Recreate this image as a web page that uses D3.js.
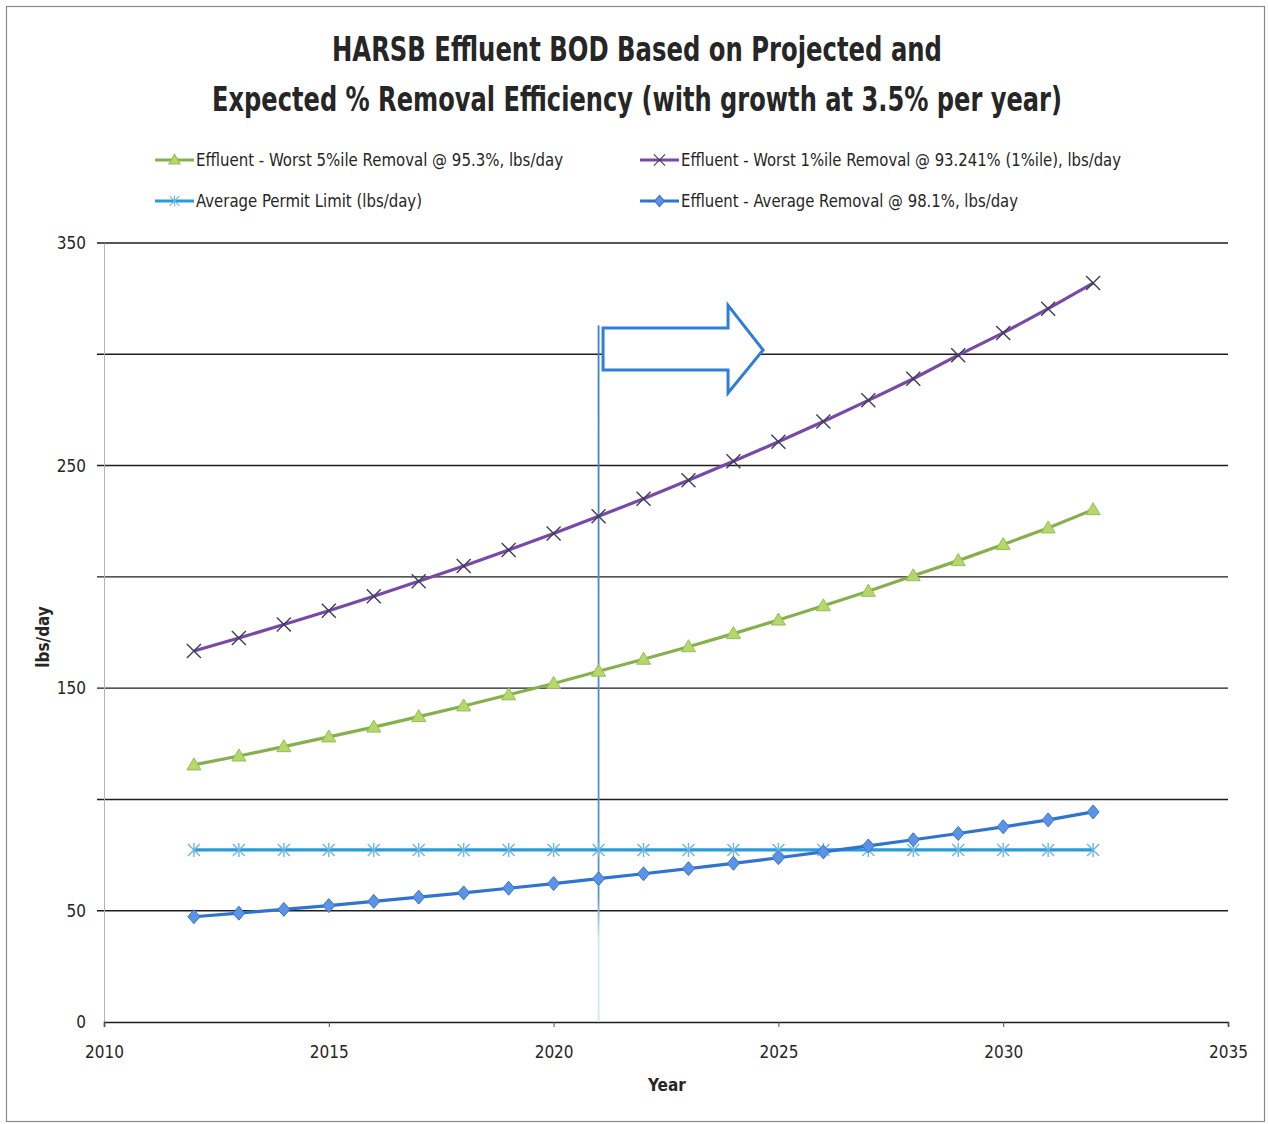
<!DOCTYPE html>
<html>
<head>
<meta charset="utf-8">
<script src="https://cdn.jsdelivr.net/npm/d3@7"></script>
<style>
  html, body { margin: 0; padding: 0; background: #fff; }
  svg { display: block; }
  text { font-family: "DejaVu Sans Condensed", "DejaVu Sans", sans-serif; fill: #262626; }
</style>
</head>
<body>
<svg id="chart" width="1268" height="1124"></svg>
<script>
// Projection years
const years = [2012, 2013, 2014, 2015, 2016, 2017, 2018, 2019, 2020, 2021, 2022,
               2023, 2024, 2025, 2026, 2027, 2028, 2029, 2030, 2031, 2032];

// Effluent BOD series, lbs/day
const worst5 = [115.5, 119.5, 123.7, 128.1, 132.5, 137.2, 142.0, 147.0, 152.1, 157.6, 163.0,
                168.6, 174.5, 180.6, 187.0, 193.5, 200.5, 207.3, 214.5, 222.0, 230.2];
const worst1 = [166.7, 172.5, 178.6, 184.8, 191.3, 198.0, 204.9, 212.1, 219.5, 227.2, 235.1,
                243.4, 251.9, 260.7, 269.8, 279.3, 289.0, 299.6, 309.6, 320.5, 332.0];
const permit = [77.3, 77.3, 77.3, 77.3, 77.3, 77.3, 77.3, 77.3, 77.3, 77.3, 77.3,
                77.3, 77.3, 77.3, 77.3, 77.3, 77.3, 77.3, 77.3, 77.3, 77.3];
const average = [47.3, 48.9, 50.6, 52.3, 54.2, 56.1, 58.0, 60.1, 62.2, 64.4, 66.6,
                 68.9, 71.3, 73.8, 76.4, 79.1, 81.9, 84.7, 87.7, 90.8, 94.4];

// Axis ticks
const yGrid = [50, 100, 150, 200, 250, 300, 350];
const yLabels = [0, 50, 150, 250, 350];
const xTicks = [2010, 2015, 2020, 2025, 2030, 2035];

// Legend entries
const legendNames = [
  "Effluent - Worst 5%ile Removal @ 95.3%, lbs/day",
  "Effluent - Worst 1%ile Removal @ 93.241% (1%ile), lbs/day",
  "Average Permit Limit (lbs/day)",
  "Effluent - Average Removal @ 98.1%, lbs/day"
];
const legendWidths = [367, 440, 226, 337];

const titleLines = ["HARSB Effluent BOD Based on Projected and",
                    "Expected % Removal Efficiency (with growth at 3.5% per year)"];

const svg = d3.select("#chart");
const x = d3.scaleLinear().domain([2010, 2035]).range([104, 1228]);
const y = d3.scaleLinear().domain([0, 350]).range([1022, 243]);

// outer frame
svg.append("rect").attr("x", 6.5).attr("y", 6.5).attr("width", 1258).attr("height", 1115)
  .attr("fill", "#fff").attr("stroke", "#8a8a8a").attr("stroke-width", 1.2);

// title
svg.append("text").attr("x", 637).attr("y", 61).attr("text-anchor", "middle")
  .attr("font-size", 33).attr("font-weight", "bold")
  .attr("textLength", 610).attr("lengthAdjust", "spacingAndGlyphs")
  .text(titleLines[0]);
svg.append("text").attr("x", 637).attr("y", 111).attr("text-anchor", "middle")
  .attr("font-size", 33).attr("font-weight", "bold")
  .attr("textLength", 850).attr("lengthAdjust", "spacingAndGlyphs")
  .text(titleLines[1]);

// horizontal gridlines
svg.append("g").selectAll("line").data(yGrid).join("line")
  .attr("x1", 97).attr("x2", x(2035))
  .attr("y1", d => y(d)).attr("y2", d => y(d))
  .attr("stroke", "#1e1e1e").attr("stroke-width", 1.4);

// y axis
const yAxis = d3.axisLeft(y).tickValues(yLabels).tickSize(0).tickPadding(18);
const gy = svg.append("g").attr("transform", `translate(${x(2010)},0)`).call(yAxis);
gy.select(".domain").attr("stroke", "#b5b5b5").attr("stroke-width", 1);
gy.selectAll("text").attr("font-size", 17).attr("fill", "#262626")
  .attr("font-family", "'DejaVu Sans Condensed', sans-serif");

// x axis
const xAxis = d3.axisBottom(x).tickValues(xTicks).tickFormat(d3.format("d"))
  .tickSize(5).tickPadding(19);
const gx = svg.append("g").attr("transform", `translate(0,${y(0)})`).call(xAxis);
gx.select(".domain").attr("stroke", "#1e1e1e").attr("stroke-width", 1.6);
gx.selectAll(".tick line").attr("stroke", "#555");
gx.selectAll("text").attr("font-size", 17).attr("fill", "#262626")
  .attr("font-family", "'DejaVu Sans Condensed', sans-serif");

// axis titles
svg.append("text").attr("x", 667).attr("y", 1091).attr("text-anchor", "middle")
  .attr("font-size", 17).attr("font-weight", "bold").text("Year");
svg.append("text").attr("transform", `translate(49,${y(173)}) rotate(-90)`)
  .attr("text-anchor", "middle").attr("font-size", 17).attr("font-weight", "bold")
  .text("lbs/day");

// 2021 marker line
const defs = svg.append("defs");
const grad = defs.append("linearGradient").attr("id", "vfade")
  .attr("x1", 0).attr("x2", 0).attr("y1", 0).attr("y2", 1);
grad.append("stop").attr("offset", "0%").attr("stop-color", "#3f7fc6");
grad.append("stop").attr("offset", "82%").attr("stop-color", "#5b95d0");
grad.append("stop").attr("offset", "88%").attr("stop-color", "#cfe6f4");
grad.append("stop").attr("offset", "100%").attr("stop-color", "#cfe6f4");
svg.append("rect").attr("x", x(2021) - 0.9).attr("y", y(313)).attr("width", 1.8)
  .attr("height", y(0) - y(313)).attr("fill", "url(#vfade)");

// forward arrow
const arrowPts = [[2021.1, 311.8], [2023.88, 311.8], [2023.88, 322.0], [2024.66, 301.9],
                  [2023.88, 282.6], [2023.88, 292.9], [2021.1, 292.9]];
svg.append("path")
  .attr("d", d3.line().x(d => x(d[0])).y(d => y(d[1])).curve(d3.curveLinearClosed)(arrowPts))
  .attr("fill", "#fff").attr("stroke", "#2f7fd8").attr("stroke-width", 3)
  .attr("stroke-linejoin", "miter");

// series definitions
const series = [
  { name: legendNames[0], values: worst5, line: "#86b04c", mark: "#b6d86a", markStroke: "#93bd57", shape: "tri" },
  { name: legendNames[1], values: worst1, line: "#7749a8", mark: "none", markStroke: "#3f3f55", shape: "x" },
  { name: legendNames[2], values: permit, line: "#2b9ad8", mark: "none", markStroke: "#6fb6e4", shape: "star" },
  { name: legendNames[3], values: average, line: "#2f74cf", mark: "#5b93e6", markStroke: "#3d72c8", shape: "diamond" }
];

function markerPath(shape) {
  if (shape === "tri") return "M0,-7L7,5L-7,5Z";
  if (shape === "diamond") return "M0,-7L6,0L0,7L-6,0Z";
  if (shape === "x") return "M-7,-7L7,7M-7,7L7,-7";
  if (shape === "star") return "M-6,-6L6,6M-6,6L6,-6M0,-7L0,7";
  return "";
}

const line = d3.line().x((d, i) => x(years[i])).y(d => y(d));
const drawOrder = [2, 3, 0, 1];
drawOrder.forEach(k => {
  const s = series[k];
  const g = svg.append("g");
  g.append("path").attr("d", line(s.values)).attr("fill", "none")
    .attr("stroke", s.line).attr("stroke-width", 3.2);
  g.selectAll("path.m").data(s.values).join("path").attr("class", "m")
    .attr("transform", (d, i) => `translate(${x(years[i])},${y(d)})`)
    .attr("d", markerPath(s.shape))
    .attr("fill", s.mark).attr("stroke", s.markStroke)
    .attr("stroke-width", s.shape === "x" || s.shape === "star" ? 1.4 : 1);
});

// legend
const legendPos = [[155, 160], [640, 160], [155, 201], [640, 201]];
series.forEach((s, k) => {
  const [lx, ly] = legendPos[k];
  const g = svg.append("g").attr("transform", `translate(${lx},${ly})`);
  g.append("line").attr("x1", 0).attr("x2", 39).attr("stroke", s.line).attr("stroke-width", 3.2);
  g.append("path").attr("transform", "translate(19.5,0) scale(0.8)").attr("d", markerPath(s.shape))
    .attr("fill", s.mark).attr("stroke", s.markStroke).attr("stroke-width", 1.4);
  g.append("text").attr("x", 41).attr("y", 6).attr("font-size", 18)
    .attr("textLength", legendWidths[k]).attr("lengthAdjust", "spacingAndGlyphs")
    .text(s.name);
});
</script>
</body>
</html>
